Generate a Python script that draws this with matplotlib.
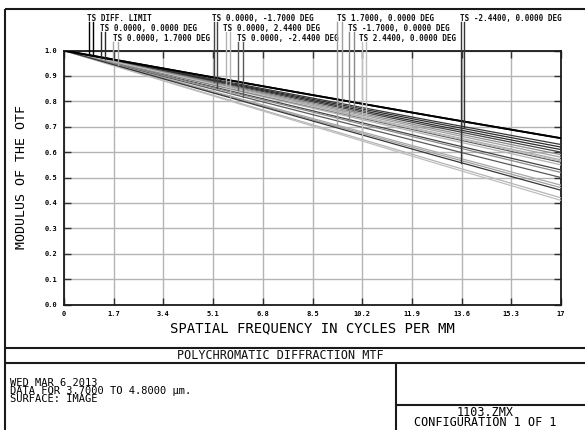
import numpy as np
import matplotlib
matplotlib.use("Agg")
import matplotlib.pyplot as plt

# ---------------- data ----------------
freqs = [0.0, 4.25, 8.5, 12.75, 17.0]
x_ticks = [0, 1.7, 3.4, 5.1, 6.8, 8.5, 10.2, 11.9, 13.6, 15.3, 17]
x_tick_labels = ['0', '1.7', '3.4', '5.1', '6.8', '8.5', '10.2', '11.9', '13.6', '15.3', '17']
y_ticks = [0.0, 0.1, 0.2, 0.3, 0.4, 0.5, 0.6, 0.7, 0.8, 0.9, 1.0]
y_tick_labels = ['0.0', '0.1', '0.2', '0.3', '0.4', '0.5', '0.6', '0.7', '0.8', '0.9', '1.0']

fields = ['DIFF. LIMIT', '0.0000, 0.0000 DEG', '0.0000, 1.7000 DEG',
          '0.0000, -1.7000 DEG', '0.0000, 2.4400 DEG', '0.0000, -2.4400 DEG',
          '1.7000, 0.0000 DEG', '-1.7000, 0.0000 DEG', '2.4400, 0.0000 DEG',
          '-2.4400, 0.0000 DEG']

mtf_T = [
    [1.0, 0.912, 0.825, 0.739, 0.655],
    [1.0, 0.903, 0.808, 0.713, 0.620],
    [1.0, 0.891, 0.783, 0.675, 0.570],
    [1.0, 0.898, 0.798, 0.698, 0.600],
    [1.0, 0.886, 0.773, 0.660, 0.550],
    [1.0, 0.888, 0.778, 0.668, 0.560],
    [1.0, 0.863, 0.728, 0.593, 0.460],
    [1.0, 0.878, 0.758, 0.638, 0.520],
    [1.0, 0.851, 0.703, 0.555, 0.410],
    [1.0, 0.861, 0.723, 0.585, 0.450],
]
mtf_S = [
    [1.0, 0.912, 0.825, 0.739, 0.655],
    [1.0, 0.901, 0.803, 0.705, 0.610],
    [1.0, 0.866, 0.733, 0.600, 0.470],
    [1.0, 0.881, 0.763, 0.645, 0.530],
    [1.0, 0.853, 0.708, 0.563, 0.420],
    [1.0, 0.873, 0.748, 0.623, 0.500],
    [1.0, 0.893, 0.788, 0.683, 0.580],
    [1.0, 0.896, 0.793, 0.690, 0.590],
    [1.0, 0.890, 0.780, 0.672, 0.565],
    [1.0, 0.906, 0.813, 0.720, 0.630],
]

info_lines = ['WED MAR 6 2013', 'DATA FOR 3.7000 TO 4.8000 \u00b5m.', 'SURFACE: IMAGE']
file_lines = ['1103.ZMX', 'CONFIGURATION 1 OF 1']

# ---------------- styles / layout ----------------
colors = ['#000000', '#2c2c2c', '#a8a8a8', '#444444', '#b4b4b4',
          '#5a5a5a', '#a0a0a0', '#8a8a8a', '#bebebe', '#363636']
label_row = [1, 2, 3, 1, 2, 3, 1, 2, 3, 1]
label_x = [0.79, 1.23, 1.68, 5.06, 5.44, 5.92, 9.34, 9.71, 10.09, 13.54]
leader_T = [0.855, 1.27, 1.68, 5.13, 5.54, 5.95, 9.34, 9.75, 10.19, 13.58]
leader_S = [0.99, 1.40, 1.85, 5.23, 5.68, 6.12, 9.51, 9.92, 10.33, 13.68]

W, H = 585, 430
fig = plt.figure(figsize=(W / 100, H / 100), dpi=100)
fig.patch.set_facecolor('white')

# overlay in pixel coordinates for the frame and annotation block
ov = fig.add_axes([0, 0, 1, 1])
ov.set_xlim(0, W)
ov.set_ylim(H, 0)
ov.axis('off')
fc = '#1a1a1a'
flw = 1.5
for (x0, y0, x1, y1) in [(5, 9, W, 9), (5, 9, 5, H), (5, 347.5, W, 347.5),
                         (5, 363, W, 363), (396, 363, 396, H), (396, 405, W, 405)]:
    ov.plot([x0, x1], [y0, y1], color=fc, lw=flw, solid_capstyle='butt')

mono = 'DejaVu Sans Mono'
ov.text(280, 355.5, 'POLYCHROMATIC DIFFRACTION MTF', ha='center', va='center',
        family=mono, fontsize=8.5, color='#111111')
ov.text(10, 391, '\n'.join(info_lines), ha='left', va='center', family=mono,
        fontsize=7.5, linespacing=0.8)
ov.text(485, 417.5, '\n'.join(file_lines), ha='center', va='center', family=mono,
        fontsize=8.5, linespacing=0.78, multialignment='center')
ov.text(312, 328, 'SPATIAL FREQUENCY IN CYCLES PER MM', ha='center', va='center',
        family=mono, fontsize=10)
ov.text(22, 177, 'MODULUS OF THE OTF', ha='center', va='center', rotation=90,
        family=mono, fontsize=9.5)

# main plot axes
left, right, top, bottom = 64, 561, 50.6, 304.5
ax = fig.add_axes([left / W, 1 - bottom / H, (right - left) / W, (bottom - top) / H])
ax.set_xlim(0, 17)
ax.set_ylim(0, 1)
ax.set_xticks(x_ticks)
ax.set_xticklabels(x_tick_labels)
ax.set_yticks(y_ticks)
ax.set_yticklabels(y_tick_labels)
ax.grid(True, color='#b4b4b4', lw=1.0)
ax.set_axisbelow(True)
ax.tick_params(direction='in', length=5, width=1, color='#303030',
               top=True, right=True, labelsize=5, pad=5)
for lab in ax.get_xticklabels() + ax.get_yticklabels():
    lab.set_family(mono)
    lab.set_fontweight('bold')
for sp in ax.spines.values():
    sp.set_color('#1a1a1a')
    sp.set_linewidth(1.3)

# curves: fields first, diffraction limit on top
for i in list(range(1, len(fields))) + [0]:
    lw = 1.3 if i == 0 else 0.9
    ax.plot(freqs, mtf_T[i], color=colors[i], lw=lw, zorder=3 if i else 4)
    ax.plot(freqs, mtf_S[i], color=colors[i], lw=lw, zorder=3 if i else 4)

# labels with leader lines
px2mtf = 1.0 / (bottom - top)
row_base = {1: 21.5, 2: 31.5, 3: 41.5}
for i, name in enumerate(fields):
    yb = (bottom - row_base[label_row[i]]) * px2mtf
    ax.text(label_x[i], yb, 'TS ' + name, ha='left', va='baseline', family=mono,
            fontweight='bold', fontsize=5.5, color='#111111', clip_on=False)
    ystart = yb - 1.0 * px2mtf
    for fx, vals in ((leader_T[i], mtf_T[i]), (leader_S[i], mtf_S[i])):
        yend = np.interp(fx, freqs, vals)
        ax.plot([fx, fx], [ystart, yend], color=colors[i], lw=1.0,
                clip_on=False, zorder=5)

fig.savefig('out.png', dpi=100)
